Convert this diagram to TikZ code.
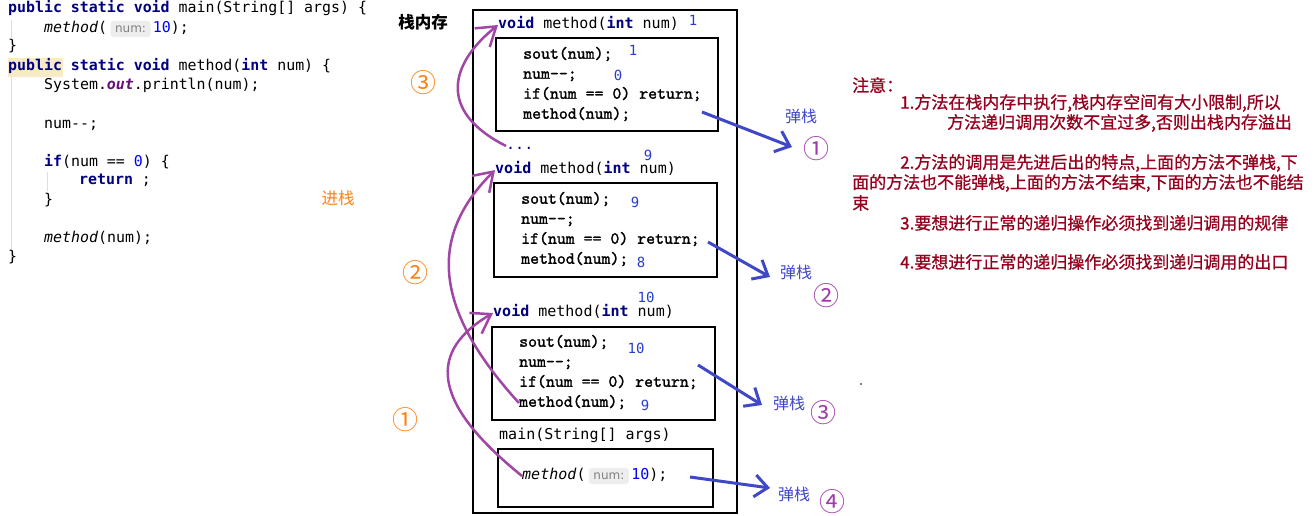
\documentclass[tikz,border=0pt]{standalone}
\usepackage{fontspec}
\usetikzlibrary{arrows.meta}
\newfontfamily\codefont{DejaVu Sans Mono}
\newfontfamily\cjk{Noto Sans CJK SC}
\newfontfamily\notefont{Noto Sans CJK SC}[FakeBold=0.8]
\newfontfamily\stmtfont{lmmono10-regular}[Extension=.otf,FakeBold=1.5]
\newfontfamily\hintfont{DejaVu Sans}
\definecolor{kwnavy}{RGB}{0,0,128}
\definecolor{numblue}{RGB}{0,0,255}
\definecolor{outpurple}{RGB}{102,14,122}
\definecolor{hintbg}{RGB}{237,237,237}
\definecolor{hinttext}{RGB}{128,128,128}
\definecolor{hilite}{RGB}{246,235,196}
\definecolor{guide}{RGB}{222,222,222}
\definecolor{stkblue}{RGB}{40,60,210}
\definecolor{popblue}{RGB}{64,72,200}
\definecolor{circpurple}{RGB}{160,60,170}
\definecolor{arrpurple}{RGB}{160,70,165}
\definecolor{orng}{RGB}{255,130,20}
\definecolor{notered}{RGB}{150,0,30}
\newcommand\kwd[1]{\textcolor{kwnavy}{\bfseries #1}}
\begin{document}
\begin{tikzpicture}[x=1pt,y=-1pt,
  code/.style={anchor=west,inner sep=0pt,font=\codefont\fontsize{14.9}{17}\selectfont,text height=10.5pt,text depth=3pt},
  hdr/.style={anchor=west,inner sep=0pt,font=\codefont\fontsize{15}{18}\selectfont,text height=10.5pt,text depth=3pt},
  stmt/.style={anchor=west,inner sep=0pt,font=\stmtfont\fontsize{17}{19}\selectfont,text height=10.5pt,text depth=3pt},
  hint/.style={anchor=west,fill=hintbg,rounded corners=3pt,inner sep=0pt,minimum width=40pt,minimum height=16pt,font=\hintfont\fontsize{12}{14}\selectfont,text=hinttext},
  val/.style={inner sep=0pt,font=\codefont\fontsize{14}{16}\selectfont,text=stkblue},
  note/.style={anchor=west,inner sep=0pt,font=\notefont\fontsize{17}{20}\selectfont,text=notered},
  pop/.style={inner sep=0pt,font=\cjk\fontsize{16}{19}\selectfont,text=popblue},
  popnum/.style={inner sep=0pt,font=\cjk\fontsize{26}{28}\selectfont,text=circpurple},
  pushnum/.style={inner sep=0pt,font=\cjk\fontsize{26}{28}\selectfont,text=orng},
  frame/.style={draw=black,line width=2.6pt},
  pusharrow/.style={draw=arrpurple,line width=2.5pt,-{Straight Barb[length=18pt,width=24pt,line width=2.5pt]}},
  poparrow/.style={draw=popblue,line width=3pt,-{Straight Barb[length=13pt,width=22pt,line width=3pt]}}
]
\useasboundingbox (0,0) rectangle (1316,516);
\fill[white] (0,0) rectangle (1316,516);

% ---------------- left code ----------------
\fill[hilite] (8,58) rectangle (63,77);
\draw[guide,line width=1pt] (11,20) -- (11,38);
\draw[guide,line width=1pt] (11,77) -- (11,262);
\draw[guide,line width=1pt] (47,172) -- (47,191);

\node[code] (c1) at (8,9) {\kwd{public} \kwd{static} \kwd{void} main(String[] args) \{};
\node[code] (c2a) at (44,29) {\textit{method}(};
\node[hint] (c2h) at ([xshift=3pt]c2a.east) {num:};
\node[code] (c2b) at ([xshift=2pt]c2h.east) {\textcolor{numblue}{10});};
\node[code] (c3) at (8,47) {\}};
\node[code] (c4) at (8,67) {\kwd{public} \kwd{static} \kwd{void} method(\kwd{int} num) \{};
\node[code] (c5) at (44,86) {System.\textcolor{outpurple}{\bfseries\itshape out}.println(num);};
\node[code] (c7) at (44,125) {num-\kern0pt-;};
\node[code] (c9) at (44,163) {\kwd{if}(num == \textcolor{numblue}{0}) \{};
\node[code] (c10) at (79,181) {\kwd{return} ;};
\node[code] (c11) at (44,201) {\}};
\node[code] (c13) at (44,239) {\textit{method}(num);};
\node[code] (c14) at (8,258) {\}};

\node[inner sep=0pt,font=\cjk\fontsize{16.5}{19}\selectfont,text=orng] (push) at (338,198) {进栈};

% ---------------- stack ----------------
\node[inner sep=0pt,font=\cjk\bfseries\fontsize{16.5}{19}\selectfont] (stk) at (423,22) {栈内存};
\draw[frame] (473,10) rectangle (737,513);

% frame 1 (num = 1)
\node[hdr] (h1) at (498,25) {\kwd{void} method(\kwd{int} num)};
\node[val] (v1h) at (693,20) {1};
\draw[frame] (496,38) rectangle (718,131);
\node[stmt] (a1) at (523,55) {sout(num);};
\node[stmt] (a2) at (523,75) {num-\kern0pt-;};
\node[stmt] (a3) at (523,95) {if(num == 0) return;};
\node[stmt] (a4) at (523,115) {method(num);};
\node[val] (v1a) at (633,50) {1};
\node[val] (v1b) at (618,75) {0};
\node[hdr,text=kwnavy] (dots) at (506,146) {...};
\node[val] (v9h) at (648,155) {9};

% frame 2 (num = 9)
\node[hdr] (h2) at (495,170) {\kwd{void} method(\kwd{int} num)};
\draw[frame] (494,183) rectangle (717,277);
\node[stmt] (b1) at (521,200) {sout(num);};
\node[stmt] (b2) at (521,220) {num-\kern0pt-;};
\node[stmt] (b3) at (521,240) {if(num == 0) return;};
\node[stmt] (b4) at (521,260) {method(num);};
\node[val] (v9a) at (635,202) {9};
\node[val] (v8) at (641,262) {8};
\node[val] (v10h) at (646,297) {10};

% frame 3 (num = 10)
\node[hdr] (h3) at (493,313) {\kwd{void} method(\kwd{int} num)};
\draw[frame] (492,327) rectangle (715,420);
\node[stmt] (d1) at (519,343) {sout(num);};
\node[stmt] (d2) at (519,363) {num-\kern0pt-;};
\node[stmt] (d3) at (519,383) {if(num == 0) return;};
\node[stmt] (d4) at (519,403) {method(num);};
\node[val] (v10a) at (636,348) {10};
\node[val] (v9b) at (645,405) {9};

% main frame
\node[hdr] (hm) at (499,436) {main(String[] args)};
\draw[frame] (498,449) rectangle (713,507);
\node[hdr] (mc) at (522,476) {\textit{method}(};
\node[hint] (mch) at ([xshift=3pt]mc.east) {num:};
\node[hdr] (mcb) at ([xshift=2pt]mch.east) {\textcolor{numblue}{10});};

% push arrows (purple) with orange numbers
\node[pushnum] (o3) at (423,83) {③};
\node[pushnum] (o2) at (415,273) {②};
\node[pushnum] (o1) at (405,420) {①};
\draw[pusharrow] (dots.west) .. controls (435,110) and (452,62) .. (h1.west);
\draw[pusharrow] (d4.west) .. controls (425,300) and (435,230) .. (h2.west);
\draw[pusharrow] (mc.west) .. controls (428,400) and (430,350) .. (h3.west);

% pop arrows (blue)
\coordinate (p1s) at (702,112);
\coordinate (p1e) at (792,147);
\coordinate (p2s) at (708,242);
\coordinate (p2e) at (770,277);
\coordinate (p3s) at (698,365);
\coordinate (p3e) at (762,405);
\coordinate (p4s) at (690,477);
\coordinate (p4e) at (770,488);
\draw[poparrow] (p1s) -- (p1e);
\draw[poparrow] (p2s) -- (p2e);
\draw[poparrow] (p3s) -- (p3e);
\draw[poparrow] (p4s) -- (p4e);
\node[pop,anchor=west] (t1) at (785,116) {弹栈};
\node[pop,anchor=west] (t2) at (780,272) {弹栈};
\node[pop,anchor=west] (t3) at (773,403) {弹栈};
\node[pop,anchor=west] (t4) at (778,494) {弹栈};
\node[popnum] (q1) at (816,149) {①};
\node[popnum] (q2) at (826,296) {②};
\node[popnum] (q3) at (823,413) {③};
\node[popnum] (q4) at (832,502) {④};

% ---------------- notes ----------------
\node[note] (n0) at (852,85) {注意：};
\node[note] (n1) at (900,103) {1.方法在栈内存中执行,栈内存空间有大小限制,所以};
\node[note] (n1b) at (947,123) {方法递归调用次数不宜过多,否则出栈内存溢出};
\node[note] (n2) at (900,163) {2.方法的调用是先进后出的特点,上面的方法不弹栈,下};
\node[note] (n2b) at (852,183) {面的方法也不能弹栈,上面的方法不结束,下面的方法也不能结};
\node[note] (n2c) at (852,203) {束};
\node[note] (n3) at (900,223) {3.要想进行正常的递归操作必须找到递归调用的规律};
\node[note] (n4) at (900,262) {4.要想进行正常的递归操作必须找到递归调用的出口};
\fill[black] (861,384) circle (0.9);
\end{tikzpicture}
\end{document}
